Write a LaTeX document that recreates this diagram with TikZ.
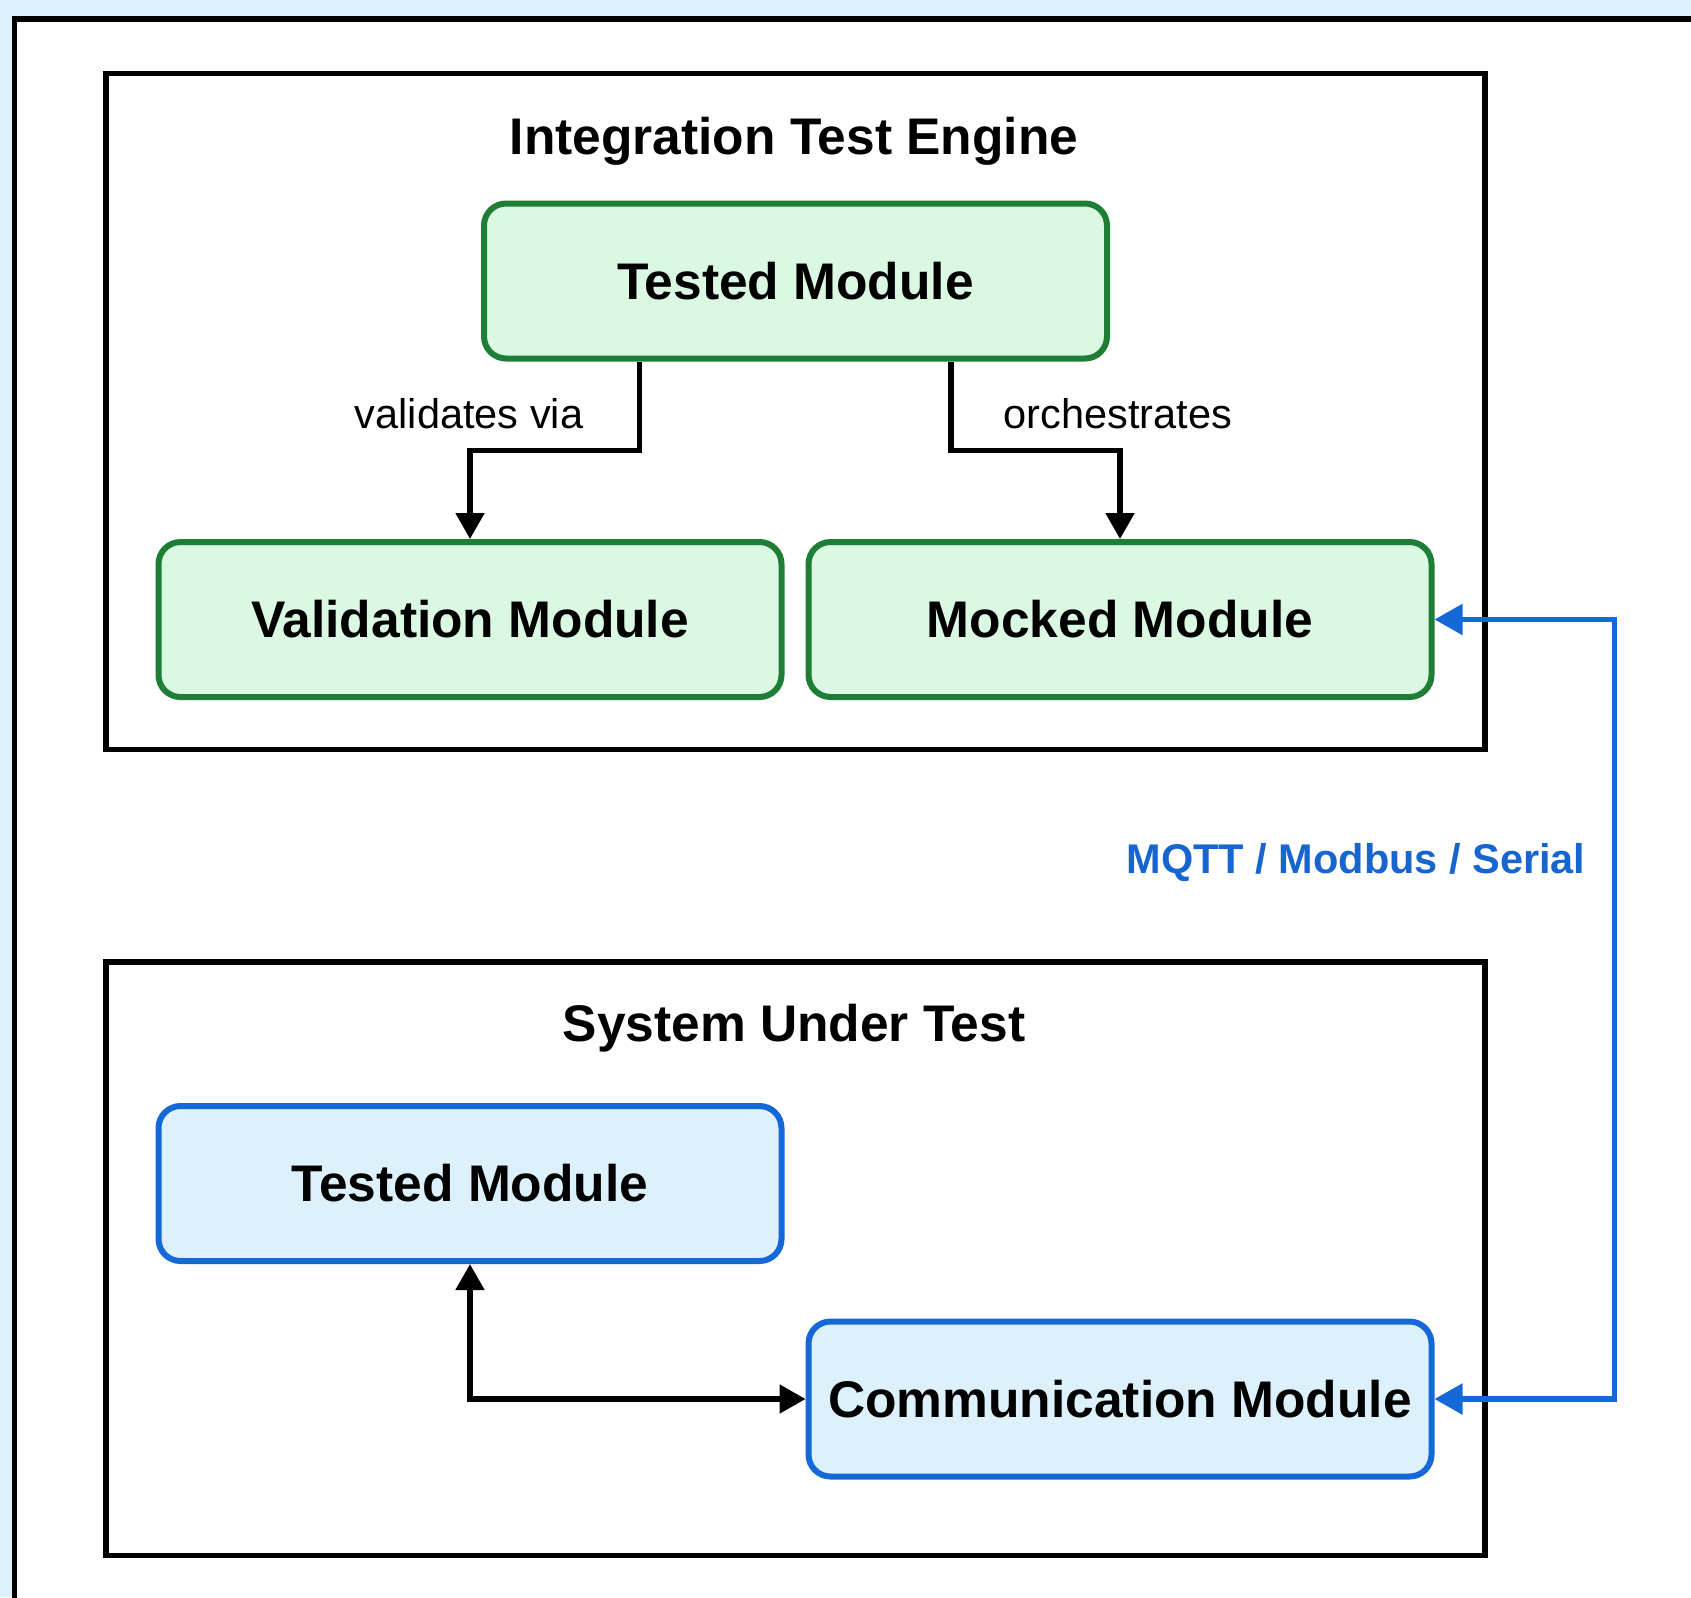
\documentclass[tikz,border=0pt]{standalone}
\usepackage{fontspec}
\setmainfont{Liberation Sans}
\usetikzlibrary{arrows.meta}
\definecolor{bgblue}{HTML}{DCF1FB}
\definecolor{gfill}{HTML}{DAF8E2}
\definecolor{gdraw}{HTML}{1E7E36}
\definecolor{bfill}{HTML}{DDF1FC}
\definecolor{bdraw}{HTML}{1468D8}
\definecolor{lblue}{HTML}{1766CF}
\tikzset{
  frame/.style={draw=black, line width=2.9pt},
  gbox/.style={draw=gdraw, fill=gfill, line width=3pt, rounded corners=11pt,
    minimum width=311.5pt, minimum height=77.5pt, inner sep=0pt,
    font=\fontsize{25.75pt}{30pt}\selectfont\bfseries},
  bbox/.style={gbox, draw=bdraw, fill=bfill},
  ttl/.style={font=\fontsize{25.75pt}{30pt}\selectfont\bfseries, inner sep=0pt},
  lbl/.style={font=\fontsize{20.75pt}{24pt}\selectfont, inner sep=0pt},
  arr/.style={draw=black, line width=2.6pt, -{Triangle[length=13pt,width=14pt]}},
  barr/.style={draw=bdraw, line width=2.7pt, {Triangle[length=14pt,width=15pt]}-{Triangle[length=14pt,width=15pt]}},
}
\begin{document}
\begin{tikzpicture}[x=0.5pt,y=-0.5pt]
\useasboundingbox (0,0) rectangle (1691,1597);
\fill[bgblue] (0,0) rectangle (1691,1597);
\clip (0,0) rectangle (1691,1597);
\draw[frame, fill=white] (14.5,19) rectangle (1720,1640);
\draw[frame] (106,73.5) rectangle (1485,749.5);
\draw[frame] (106,962) rectangle (1485,1555.5);
\node[ttl] (t1) at (794,141.5) {Integration Test Engine};
\node[ttl] (t2) at (794,1028.5) {System Under Test};
\node[gbox] (tm) at (795.5,281) {Tested Module};
\node[gbox] (vm) at (470,619.5) {Validation Module};
\node[gbox] (mm) at (1120,619.5) {Mocked Module};
\node[bbox] (st) at (470,1183.5) {Tested Module};
\node[bbox] (cm) at (1120,1399) {Communication Module};
\draw[arr] ([xshift=-78pt]tm.south) -- ++(0,-44.5pt) -| (vm.north);
\draw[arr] ([xshift=77.75pt]tm.south) -- ++(0,-44.5pt) -| (mm.north);
\node[lbl] (l1) at (469,414) {validates via};
\node[lbl] (l2) at (1118,414) {orchestrates};
\draw[arr, {Triangle[length=13pt,width=14pt]}-{Triangle[length=13pt,width=14pt]}] (st.south) |- (cm.west);
\draw[barr] (cm.east) -- ++(90pt,0) |- (mm.east);
\node[lbl, font=\fontsize{20.75pt}{24pt}\selectfont\bfseries, text=lblue] (l3) at (1356,863) {MQTT / Modbus / Serial};
\end{tikzpicture}
\end{document}
